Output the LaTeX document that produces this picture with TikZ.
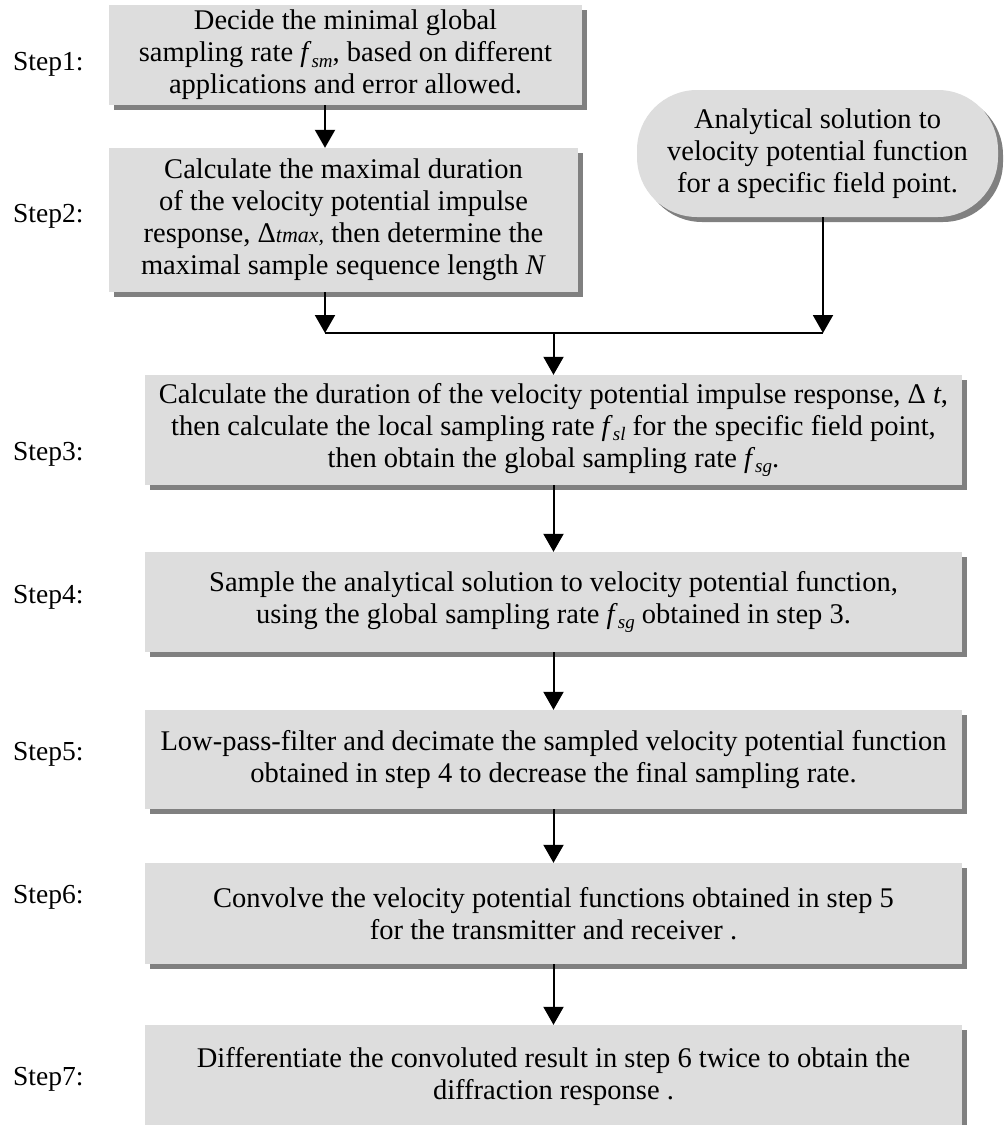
\documentclass[tikz,border=0pt]{standalone}
\usepackage{fontspec}
\setmainfont{Liberation Serif}
\usetikzlibrary{shadows,arrows.meta}
\definecolor{boxgray}{HTML}{DDDDDD}
\definecolor{shadowgray}{HTML}{808080}
\newcommand\mysub[1]{\raisebox{-0.4ex}{\fontsize{19}{19}\selectfont\itshape #1}}
\newcommand\myf[1]{\textit{f}\mysub{#1}}
\tikzset{
  boxbase/.style={fill=boxgray, align=center, inner sep=0pt,
    font=\fontsize{28.5}{32}\selectfont,
    drop shadow={shadow xshift=5pt, shadow yshift=-5pt, fill=shadowgray, opacity=1}},
  stepbox/.style={boxbase, rectangle},
  termbox/.style={boxbase, rectangle, rounded corners=60pt},
  steplabel/.style={anchor=base west, inner sep=0pt, font=\fontsize{27.5}{30}\selectfont},
  arr/.style={line width=2pt, -{Triangle[width=20pt,length=18pt]}},
  ln/.style={line width=2pt}
}
\begin{document}
\begin{tikzpicture}[x=1pt,y=-1pt]
\useasboundingbox (0,0) rectangle (1007,1125);
\clip (0,0) rectangle (1007,1125);

% boxes
\node[stepbox, minimum width=473pt, minimum height=100pt] (b1) at (345.5,55)
  {Decide the minimal global\\ sampling rate \myf{sm}, based on different\\ applications and error allowed.};
\node[stepbox, minimum width=469pt, minimum height=144pt] (b2) at (343.5,220)
  {Calculate the maximal duration\\ of the velocity potential impulse\\
   response, Δ{\fontsize{22}{22}\selectfont\itshape tmax,} then determine the\\
   maximal sample sequence length \textit{N}};
\node[termbox, minimum width=361pt, minimum height=127pt] (r) at (817.5,153.5)
  {Analytical solution to\\ velocity potential function\\ for a specific field point.};
\node[stepbox, minimum width=817pt, minimum height=110pt] (b3) at (553.5,430)
  {Calculate the duration of the velocity potential impulse response, Δ \textit{t},\\
   then calculate the local sampling rate \myf{sl} for the specific field point,\\
   then obtain the global sampling rate \myf{sg}.};
\node[stepbox, minimum width=817pt, minimum height=100pt] (b4) at (553.5,602)
  {Sample the analytical solution to velocity potential function,\\
   using the global sampling rate \myf{sg} obtained in step 3.};
\node[stepbox, minimum width=817pt, minimum height=99pt] (b5) at (553.5,759.5)
  {Low-pass-filter and decimate the sampled velocity potential function\\
   obtained in step 4 to decrease the final sampling rate.};
\node[stepbox, minimum width=817pt, minimum height=101pt] (b6) at (553.5,913.5)
  {Convolve the velocity potential functions obtained in step 5\\
   for the transmitter and receiver .};
\node[stepbox, minimum width=817pt, minimum height=102pt] (b7) at (553.5,1076)
  {Differentiate the convoluted result in step 6 twice to obtain the\\
   diffraction response .};

% step labels
\node[steplabel] (s1) at (13,70) {Step1:};
\node[steplabel] (s2) at (13,222) {Step2:};
\node[steplabel] (s3) at (13,460) {Step3:};
\node[steplabel] (s4) at (13,603) {Step4:};
\node[steplabel] (s5) at (13,760) {Step5:};
\node[steplabel] (s6) at (13,903) {Step6:};
\node[steplabel] (s7) at (13,1085) {Step7:};

% junction coordinates
\coordinate (jl) at (325,333);
\coordinate (jr) at (823,333);
\coordinate (jm) at (553.5,333);

% connectors
\draw[arr] (b1.south -| jl) -- (b2.north -| jl);
\draw[arr] (b2.south -| jl) -- (jl);
\draw[arr] (r.south -| jr) -- (jr);
\draw[ln] (jl) -- (jr);
\draw[arr] (jm) -- (b3.north);
\draw[arr] (b3.south) -- (b4.north);
\draw[arr] (b4.south) -- (b5.north);
\draw[arr] (b5.south) -- (b6.north);
\draw[arr] (b6.south) -- (b7.north);
\end{tikzpicture}
\end{document}
